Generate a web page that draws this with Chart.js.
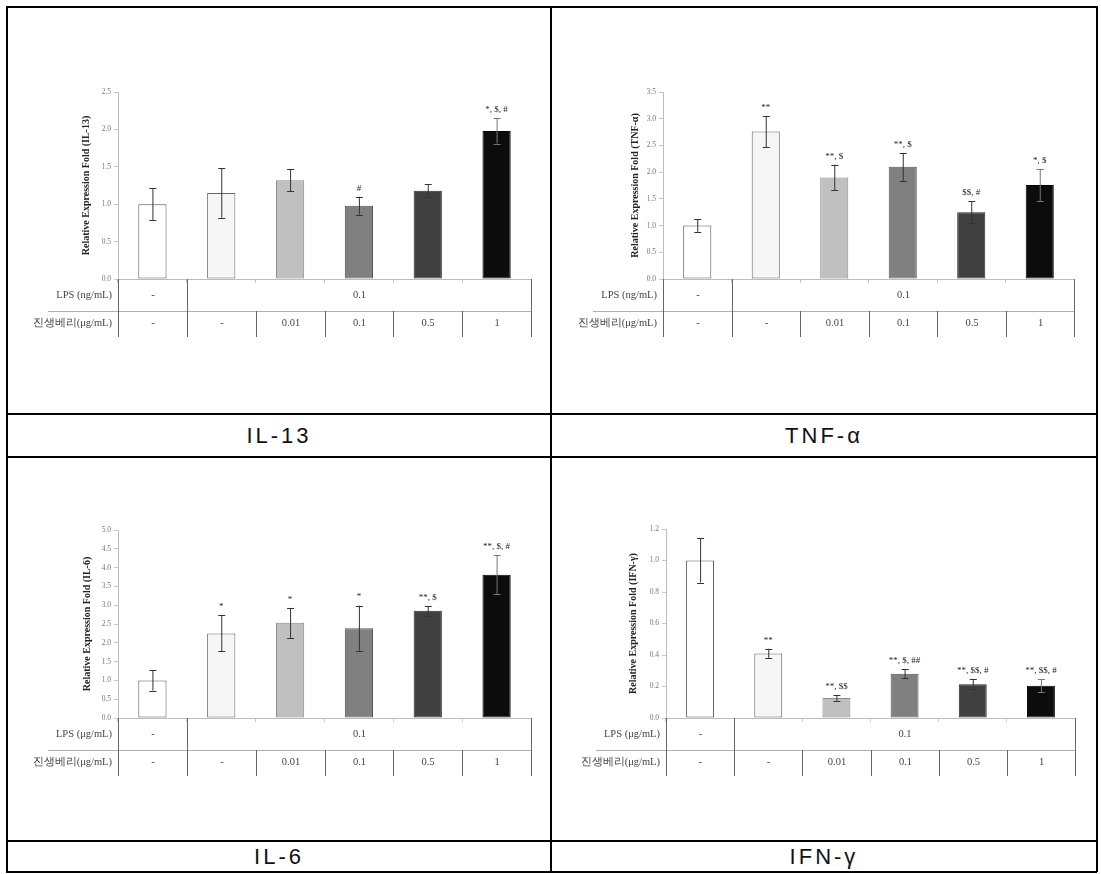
<!DOCTYPE html>
<html>
<head>
<meta charset="utf-8">
<script src="https://cdn.jsdelivr.net/npm/chart.js@4/dist/chart.umd.min.js"></script>
<style>
  body { margin: 0; background: #fff; width: 1101px; height: 874px; position: relative; overflow: hidden; }
  .h { position: absolute; left: 6px; width: 1091px; height: 2px; background: #000; }
  .v { position: absolute; top: 6px; width: 2px; height: 866px; background: #000; }
  canvas { position: absolute; }
  .cap { position: absolute; display: flex; align-items: center; justify-content: center;
         font-family: "Liberation Sans Narrow", "Liberation Sans", sans-serif; font-size: 22px;
         letter-spacing: 3px; color: #111; }
</style>
</head>
<body>
<div class="h" style="top:6px"></div>
<div class="h" style="top:413px"></div>
<div class="h" style="top:456px"></div>
<div class="h" style="top:840px"></div>
<div class="h" style="top:871px"></div>
<div class="v" style="left:6px"></div>
<div class="v" style="left:550px"></div>
<div class="v" style="left:1096px"></div>

<canvas id="il13" width="542" height="405" style="left:8px;top:8px"></canvas>
<canvas id="tnf" width="544" height="405" style="left:552px;top:8px"></canvas>
<canvas id="il6" width="542" height="382" style="left:8px;top:458px"></canvas>
<canvas id="ifn" width="544" height="382" style="left:552px;top:458px"></canvas>

<div class="cap" style="left:8px;top:415px;width:542px;height:41px">IL-13</div>
<div class="cap" style="left:552px;top:415px;width:544px;height:41px">TNF-α</div>
<div class="cap" style="left:8px;top:842px;width:542px;height:29px">IL-6</div>
<div class="cap" style="left:552px;top:842px;width:544px;height:29px">IFN-γ</div>

<script>
const groups = ["control", "LPS", "0.01", "0.1", "0.5", "1"]
const lpsRow = ["-", "0.1"]
const berryRow = ["-", "-", "0.01", "0.1", "0.5", "1"]

const il13Values = [1.0, 1.15, 1.32, 0.98, 1.18, 1.98]
const il13Errors = [0.21, 0.33, 0.15, 0.12, 0.09, 0.17]
const il13Marks = ["", "", "", "#", "", "*, $, #"]

const tnfValues = [1.0, 2.76, 1.9, 2.1, 1.25, 1.76]
const tnfErrors = [0.12, 0.29, 0.24, 0.26, 0.21, 0.3]
const tnfMarks = ["", "**", "**, $", "**, $", "$$, #", "*, $"]

const il6Values = [1.0, 2.25, 2.53, 2.39, 2.85, 3.81]
const il6Errors = [0.27, 0.48, 0.4, 0.6, 0.13, 0.52]
const il6Marks = ["", "*", "*", "*", "**, $", "**, $, #"]

const ifnValues = [1.0, 0.41, 0.127, 0.281, 0.215, 0.205]
const ifnErrors = [0.14, 0.03, 0.02, 0.03, 0.03, 0.04]
const ifnMarks = ["", "**", "**, $$", "**, $, ##", "**, $$, #", "**, $$, #"]

const barFill = ["#ffffff", "#f6f6f6", "#c0c0c0", "#808080", "#404040", "#0c0c0c"]
const barLine = ["#555555", "#666666", "#8a8a8a", "#555555", "#2a2a2a", "#000000"]

// error bars, significance marks and the condition table under the axis
const extras = {
    id: "extras",
    afterDatasetsDraw(chart, args, opts) {
        const ctx = chart.ctx
        const xs = chart.scales.x
        const ys = chart.scales.y
        ctx.save()
        opts.values.forEach((v, i) => {
            const cx = xs.getPixelForValue(i)
            const top = ys.getPixelForValue(v + opts.errors[i])
            const bot = ys.getPixelForValue(v - opts.errors[i])
            ctx.strokeStyle = i == 5 ? "#777" : "#333"
            ctx.lineWidth = 1
            ctx.beginPath()
            ctx.moveTo(cx + 0.5, top)
            ctx.lineTo(cx + 0.5, bot)
            ctx.moveTo(cx - 3, Math.round(top) + 0.5)
            ctx.lineTo(cx + 4, Math.round(top) + 0.5)
            ctx.moveTo(cx - 3, Math.round(bot) + 0.5)
            ctx.lineTo(cx + 4, Math.round(bot) + 0.5)
            ctx.stroke()
            if (opts.marks[i]) {
                ctx.fillStyle = "#222"
                ctx.font = "9px 'Liberation Serif', serif"
                ctx.textAlign = "center"
                ctx.textBaseline = "bottom"
                ctx.fillText(opts.marks[i], cx, top - 4)
            }
        })
        ctx.restore()
    },
    afterDraw(chart, args, opts) {
        const ctx = chart.ctx
        const xs = chart.scales.x
        const n = groups.length
        const edge = i => Math.round(xs.left + i * (xs.right - xs.left) / n) + 0.5
        const y0 = chart.chartArea.bottom
        const y1 = y0 + 32
        const y2 = y0 + 58
        ctx.save()
        ctx.lineWidth = 1
        ctx.strokeStyle = "#b0b0b0"
        ctx.beginPath()
        ctx.moveTo(xs.left - 70, y1 + 0.5)
        ctx.lineTo(edge(n), y1 + 0.5)
        ctx.stroke()
        ctx.strokeStyle = "#666"
        ctx.beginPath()
        for (let i = 0; i <= n; i++) {
            const top = (i == 0 || i == 1 || i == n) ? y0 : y1
            ctx.moveTo(edge(i), top)
            ctx.lineTo(edge(i), y2)
        }
        ctx.stroke()

        ctx.fillStyle = "#444"
        ctx.font = "10.5px 'Liberation Serif', serif"
        ctx.textBaseline = "middle"
        ctx.textAlign = "right"
        ctx.fillText(opts.lpsLabel, xs.left - 6, (y0 + y1) / 2)
        ctx.fillText("진생베리(μg/mL)", xs.left - 6, (y1 + y2) / 2 - 1)
        ctx.textAlign = "center"
        ctx.fillText(lpsRow[0], (edge(0) + edge(1)) / 2, (y0 + y1) / 2)
        ctx.fillText(lpsRow[1], (edge(1) + edge(n)) / 2, (y0 + y1) / 2)
        berryRow.forEach((t, i) => {
            ctx.fillText(t, (edge(i) + edge(i + 1)) / 2, (y1 + y2) / 2 - 1)
        })
        ctx.restore()
    }
}

function makeChart(id, values, errors, marks, yMax, step, title, lpsLabel, pad, axisWidth) {
    new Chart(document.getElementById(id), {
        type: "bar",
        data: {
            labels: groups,
            datasets: [{
                data: values,
                backgroundColor: barFill,
                borderColor: barLine,
                borderWidth: 1,
                borderSkipped: false,
                barPercentage: 0.41,
                categoryPercentage: 1
            }]
        },
        options: {
            responsive: false,
            animation: false,
            layout: { padding: pad },
            plugins: {
                legend: { display: false },
                tooltip: { enabled: false },
                extras: { values, errors, marks, lpsLabel }
            },
            scales: {
                x: {
                    ticks: { display: false },
                    grid: { drawOnChartArea: false, tickLength: 4, color: "#c8c8c8" },
                    border: { color: "#bdbdbd" },
                    afterFit: s => { s.height = 0 }
                },
                y: {
                    min: 0,
                    max: yMax,
                    ticks: {
                        stepSize: step,
                        padding: 3,
                        color: "#777",
                        font: { family: "'Liberation Serif', serif", size: 7.5 },
                        callback: v => Number(v).toFixed(1)
                    },
                    grid: { drawOnChartArea: false, tickLength: 4, color: "#c8c8c8" },
                    border: { color: "#bdbdbd" },
                    title: {
                        display: true,
                        text: title,
                        color: "#222",
                        font: { family: "'Liberation Serif', serif", size: 10, weight: "bold" }
                    },
                    afterFit: s => { s.width = axisWidth }
                }
            }
        },
        plugins: [extras]
    })
}

makeChart("il13", il13Values, il13Errors, il13Marks, 2.5, 0.5, "Relative Expression Fold (IL-13)", "LPS (ng/mL)",
    { left: 68, top: 84, right: 19, bottom: 134 }, 42)
makeChart("tnf", tnfValues, tnfErrors, tnfMarks, 3.5, 0.5, "Relative Expression Fold (TNF-α)", "LPS (ng/mL)",
    { left: 73, top: 84, right: 22, bottom: 134 }, 38)
makeChart("il6", il6Values, il6Errors, il6Marks, 5.0, 0.5, "Relative Expression Fold (IL-6)", "LPS (μg/mL)",
    { left: 69, top: 72, right: 19, bottom: 122 }, 41)
makeChart("ifn", ifnValues, ifnErrors, ifnMarks, 1.2, 0.2, "Relative Expression Fold (IFN-γ)", "LPS (μg/mL)",
    { left: 71, top: 71, right: 21, bottom: 122 }, 43)
</script>
</body>
</html>
